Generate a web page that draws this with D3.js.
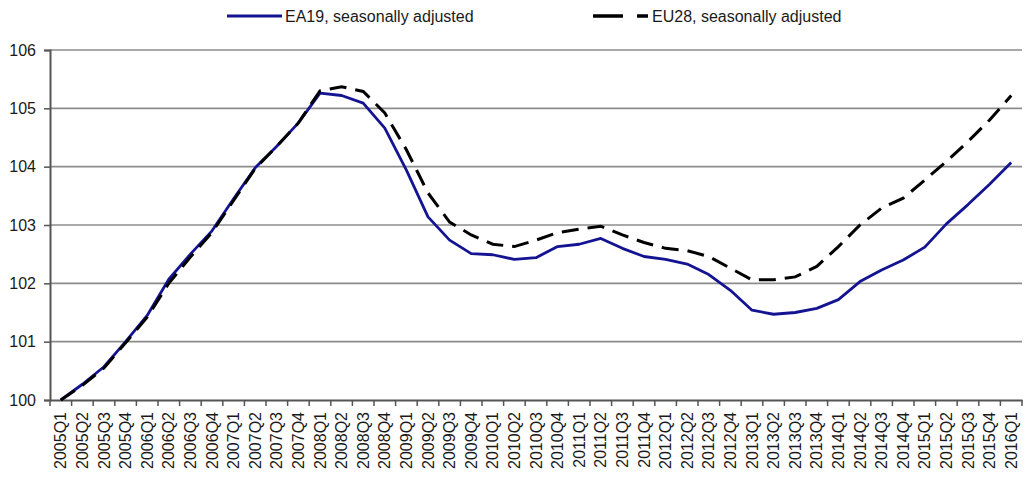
<!DOCTYPE html>
<html>
<head>
<meta charset="utf-8">
<script src="https://cdn.jsdelivr.net/npm/d3@7"></script>
<style>
  html, body { margin: 0; padding: 0; background: #fff; }
  svg { display: block; font-family: "Liberation Sans", Arial, sans-serif; }
</style>
</head>
<body>
<svg id="chart" width="1026" height="477"></svg>
<script>
const categories = [
  "2005Q1","2005Q2","2005Q3","2005Q4",
  "2006Q1","2006Q2","2006Q3","2006Q4",
  "2007Q1","2007Q2","2007Q3","2007Q4",
  "2008Q1","2008Q2","2008Q3","2008Q4",
  "2009Q1","2009Q2","2009Q3","2009Q4",
  "2010Q1","2010Q2","2010Q3","2010Q4",
  "2011Q1","2011Q2","2011Q3","2011Q4",
  "2012Q1","2012Q2","2012Q3","2012Q4",
  "2013Q1","2013Q2","2013Q3","2013Q4",
  "2014Q1","2014Q2","2014Q3","2014Q4",
  "2015Q1","2015Q2","2015Q3","2015Q4",
  "2016Q1"
];
const ea19 = [
  100.0, 100.27, 100.57, 101.0,
  101.45, 102.07, 102.5, 102.9,
  103.45, 103.98, 104.35, 104.75,
  105.26, 105.22, 105.09, 104.66,
  103.94, 103.14, 102.74, 102.51,
  102.49, 102.41, 102.44, 102.63,
  102.67, 102.77, 102.6, 102.46,
  102.41, 102.33, 102.15, 101.88,
  101.54, 101.47, 101.5, 101.57,
  101.72, 102.03, 102.23, 102.4,
  102.62, 103.02, 103.35, 103.7,
  104.07
];
const eu28 = [
  100.0, 100.25, 100.55, 100.98,
  101.42, 102.0, 102.45, 102.87,
  103.42, 103.97, 104.35, 104.75,
  105.3, 105.37, 105.29, 104.92,
  104.29, 103.55, 103.05, 102.83,
  102.67, 102.63, 102.74, 102.87,
  102.93, 102.98, 102.83, 102.7,
  102.6, 102.56, 102.46, 102.26,
  102.06, 102.06, 102.11, 102.29,
  102.63, 103.0, 103.29, 103.46,
  103.77, 104.09, 104.43, 104.8,
  105.22
];
const seriesNames = ["EA19, seasonally adjusted", "EU28, seasonally adjusted"];
const yTicks = [100, 101, 102, 103, 104, 105, 106];

const svg = d3.select("#chart");
const plotLeft = 50, plotRight = 1022, plotTop = 50, plotBottom = 400;

const x = d3.scaleBand().domain(categories).range([plotLeft, plotRight]).padding(0);
const y = d3.scaleLinear().domain([100, 106]).range([plotBottom, plotTop]);
const cx = c => x(c) + x.bandwidth() / 2;

// gridlines
svg.append("g").selectAll("line")
  .data(yTicks.filter(v => v > 100))
  .join("line")
  .attr("x1", plotLeft).attr("x2", plotRight)
  .attr("y1", d => y(d)).attr("y2", d => y(d))
  .attr("stroke", "#8c8c8c").attr("stroke-width", 1.6);

// y axis
const yAxis = svg.append("g")
  .attr("transform", `translate(${plotLeft},0)`)
  .call(d3.axisLeft(y).tickValues(yTicks).tickFormat(d3.format("d")).tickSize(6).tickPadding(8));
yAxis.select(".domain").attr("stroke", "#555").attr("stroke-width", 2);
yAxis.selectAll(".tick line").attr("stroke", "#555").attr("stroke-width", 1.5);
yAxis.selectAll(".tick text").attr("font-size", 16).attr("fill", "#1a1a1a")
  .attr("font-family", "Liberation Sans, Arial, sans-serif");

// x axis
const xAxis = svg.append("g")
  .attr("transform", `translate(0,${plotBottom})`)
  .call(d3.axisBottom(x).tickSize(0).tickPadding(0));
xAxis.select(".domain").attr("stroke", "#555").attr("stroke-width", 2);
xAxis.selectAll(".tick text")
  .attr("font-size", 16).attr("fill", "#1a1a1a")
  .attr("font-family", "Liberation Sans, Arial, sans-serif")
  .attr("text-anchor", "end")
  .attr("transform", "translate(0,12) rotate(-90)")
  .attr("x", 0).attr("y", 0).attr("dy", "0.35em");

// boundary ticks on x axis
const bounds = categories.map(c => x(c)).concat([x.range()[1]]);
svg.append("g").selectAll("line")
  .data(bounds)
  .join("line")
  .attr("x1", d => d).attr("x2", d => d)
  .attr("y1", plotBottom).attr("y2", plotBottom + 6)
  .attr("stroke", "#555").attr("stroke-width", 1.5);

// lines
const line = d3.line().x((d, i) => cx(categories[i])).y(d => y(d));
svg.append("path").datum(ea19)
  .attr("d", line)
  .attr("fill", "none")
  .attr("stroke", "#141492")
  .attr("stroke-width", 2.8)
  .attr("stroke-linejoin", "round");
svg.append("path").datum(eu28)
  .attr("d", line)
  .attr("fill", "none")
  .attr("stroke", "#000")
  .attr("stroke-width", 3)
  .attr("stroke-dasharray", "17,9");

// legend
const legend = svg.append("g");
legend.append("line")
  .attr("x1", 227).attr("x2", 282).attr("y1", 16).attr("y2", 16)
  .attr("stroke", "#141492").attr("stroke-width", 3.2);
legend.append("text")
  .attr("x", 285).attr("y", 16).attr("dy", "0.35em")
  .attr("font-size", 16).attr("fill", "#1a1a1a")
  .text(seriesNames[0]);
legend.append("line")
  .attr("x1", 593).attr("x2", 648).attr("y1", 16).attr("y2", 16)
  .attr("stroke", "#000").attr("stroke-width", 3.5)
  .attr("stroke-dasharray", "30,14,11");
legend.append("text")
  .attr("x", 652).attr("y", 16).attr("dy", "0.35em")
  .attr("font-size", 16).attr("fill", "#1a1a1a")
  .text(seriesNames[1]);
</script>
</body>
</html>
